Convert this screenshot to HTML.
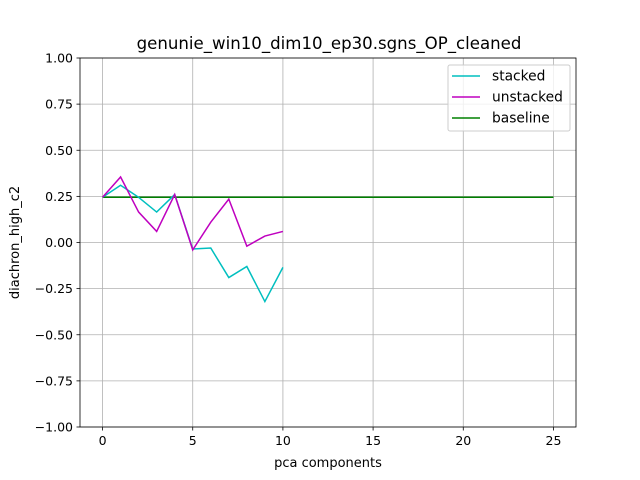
<!DOCTYPE html>
<html><head><meta charset="utf-8"><style>body{margin:0;background:#fff}svg{display:block}text{font-family:"DejaVu Sans","Liberation Sans",sans-serif}</style></head>
<body>
<svg id="chart" width="640" height="480"></svg>
<script>
const xTicks=[0,5,10,15,20,25];
const yTicks=[-1.00,-0.75,-0.50,-0.25,0.00,0.25,0.50,0.75,1.00];
const stackedX=[0,1,2,3,4,5,6,7,8,9,10];
const stacked=[0.245,0.31,0.245,0.165,0.26,-0.035,-0.03,-0.19,-0.13,-0.32,-0.135];
const unstacked=[0.245,0.355,0.165,0.06,0.26,-0.04,0.11,0.235,-0.02,0.035,0.06];
const baselineX=[0,25];
const baseline=[0.245,0.245];
const L=80,R=576,T=58,B=427;
const sx=v=>L+(v+1.25)/27.5*(R-L);
const sy=v=>T+(1-v)/2*(B-T);
const svg=document.getElementById('chart');
const NS='http://www.w3.org/2000/svg';
function mk(t,a,p){const e=document.createElementNS(NS,t);for(const k in a)e.setAttribute(k,a[k]);(p||svg).appendChild(e);return e;}
xTicks.forEach(t=>{const x=sx(t);
const g=mk('line',{x1:x,x2:x,y1:T,y2:B,stroke:'#b0b0b0','stroke-width':0.8});


mk('line',{x1:x,x2:x,y1:B,y2:B+3.5,stroke:'#000','stroke-width':0.8});
const tx=mk('text',{x:x,y:B+18,'text-anchor':'middle','font-size':12.5});tx.textContent=t;

});
yTicks.forEach(t=>{const y=sy(t);
const g=mk('line',{x1:L,x2:R,y1:y,y2:y,stroke:'#b0b0b0','stroke-width':0.8});


mk('line',{x1:L-3.5,x2:L,y1:y,y2:y,stroke:'#000','stroke-width':0.8});
const tx=mk('text',{x:L-7,y:y+4.5,'text-anchor':'end','font-size':12.5});tx.textContent=t.toFixed(2).replace('-','−');

});
function line(xs,ys,c,name){const p=mk('polyline',{points:xs.map((x,i)=>sx(x)+','+sy(ys[i])).join(' '),fill:'none',stroke:c,'stroke-width':1.5});

}
line(baselineX,baseline,'#008000','baseline-line');
line(stackedX,stacked,'#00bfbf','stacked-line');
line(stackedX,unstacked,'#bf00bf','unstacked-line');
const fr=mk('rect',{x:L,y:T,width:R-L,height:B-T,fill:'none',stroke:'#000','stroke-width':0.8});


const ti=mk('text',{x:(L+R)/2+1,y:49,'text-anchor':'middle','font-size':16.6});ti.textContent='genunie_win10_dim10_ep30.sgns_OP_cleaned';


const xl=mk('text',{x:(L+R)/2,y:467,'text-anchor':'middle','font-size':13});xl.textContent='pca components';


const yl=mk('text',{x:0,y:0,'text-anchor':'middle','font-size':13,transform:'translate(19,'+((T+B)/2)+') rotate(-90)'});yl.textContent='diachron_high_c2';


const lg=mk('g',{});


mk('rect',{x:448,y:65,width:122,height:66,rx:2,fill:'#fff','fill-opacity':0.8,stroke:'#ccc'},lg);
[['stacked','#00bfbf'],['unstacked','#bf00bf'],['baseline','#008000']].forEach((d,i)=>{const y=76+i*21;
mk('line',{x1:452,x2:480,y1:y,y2:y,stroke:d[1],'stroke-width':1.5},lg);
const t=mk('text',{x:492,y:y+4.5,'font-size':13.8},lg);t.textContent=d[0];

});
</script>
</body></html>
